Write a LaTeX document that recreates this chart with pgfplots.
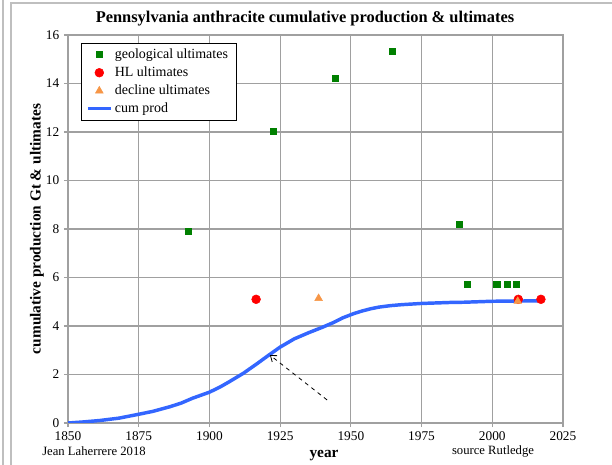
\documentclass[border=0pt]{standalone}
\usepackage{pgfplots}
\pgfplotsset{compat=1.18}
\usepackage{fontspec}
\setmainfont{Liberation Serif}
\usetikzlibrary{arrows.meta}
\definecolor{geo}{RGB}{0,128,0}
\definecolor{hl}{RGB}{255,0,0}
\definecolor{dec}{RGB}{247,150,70}
\definecolor{cum}{RGB}{51,102,255}
\definecolor{gridc}{RGB}{160,160,160}
\begin{document}
\begin{tikzpicture}
\useasboundingbox (0,0) rectangle (459pt,348.75pt);
% outer frame lines
\draw[gray!50, line width=0.8pt] (2.25pt,0) -- (2.25pt,348.75pt);
\draw[gray!50, line width=0.8pt] (8.25pt,0) -- (8.25pt,346.5pt) -- (459pt,346.5pt);
\begin{axis}[
  at={(51pt,31.5pt)}, anchor=south west,
  scale only axis, width=371.25pt, height=291pt,
  xmin=1850, xmax=2025, ymin=0, ymax=16,
  xtick={1850,1875,...,2025}, ytick={0,2,...,16},
  grid=major,
  major grid style={gridc, line width=0.8pt},
  axis line style={gridc, line width=0.8pt},
  tick style={gridc, line width=0.8pt},
  tick align=outside, tick pos=left,
  major tick length=3pt,
  /pgf/number format/1000 sep={},
  /pgf/number format/assume math mode=true,
  tick label style={font=\fontsize{10}{12}\selectfont, black},
  legend style={at={(0.026,0.979)}, anchor=north west, draw=black, fill=white,
    font=\fontsize{10.5}{12}\selectfont, row sep=0.8pt, inner xsep=4pt, inner ysep=2pt,
    cells={anchor=west}},
  legend cell align=left,
]
\addplot[cum, line width=2.6pt, forget plot, line join=round] coordinates {
(1850,0) (1855,0.04) (1861,0.1) (1868,0.2) (1875,0.36) (1880,0.48) (1886,0.67)
(1890,0.82) (1894,1.02) (1900,1.27) (1904,1.5) (1907,1.7) (1912,2.05) (1917,2.46)
(1921,2.8) (1925,3.13) (1930,3.47) (1935,3.72) (1940,3.95) (1944,4.15) (1947,4.33)
(1951,4.51) (1954,4.62) (1957,4.71) (1960,4.78) (1964,4.84) (1968,4.88) (1975,4.93) (1985,4.97)
(1990,4.98) (2000,5.02) (2010,5.03) (2017,5.04)};
\addplot[only marks, mark=square*, mark size=2.3pt, color=geo] coordinates {
(1892.4,7.92) (1922.5,12.04) (1944.4,14.23) (1964.5,15.34) (1988.2,8.2)
(1991.3,5.72) (2001.6,5.72) (2005.4,5.72) (2008.6,5.72)};
\addlegendentry{geological ultimates}
\addplot[only marks, mark=*, mark size=3.3pt, color=hl] coordinates {
(1916.5,5.1) (2009.2,5.1) (2017.2,5.1)};
\addlegendentry{HL ultimates}
\addplot[only marks, mark=triangle*, mark size=3.3pt, color=dec] coordinates {
(1938.6,5.14) (2009,5.02)};
\addlegendentry{decline ultimates}
\addlegendimage{cum, line width=2.2pt}
\addlegendentry{cum prod}
\draw[black, dashed, line width=0.6pt, -{Straight Barb[length=4pt,width=6pt]}]
  (axis cs:1941.6,0.95) -- (axis cs:1921.4,2.8);
\end{axis}
\node[font=\bfseries\fontsize{12.3}{14}\selectfont] at (228.75pt,334.5pt) {Pennsylvania anthracite cumulative production \& ultimates};
\node[font=\bfseries\fontsize{11.5}{13}\selectfont, rotate=90] at (27.75pt,177pt) {cumulative production Gt \& ultimates};
\node[font=\bfseries\fontsize{11.5}{13}\selectfont] at (243pt,6.75pt) {year};
\node[font=\fontsize{9.5}{11}\selectfont] at (70.5pt,10.5pt) {Jean Laherrere 2018};
\node[font=\fontsize{9.5}{11}\selectfont] at (369.75pt,10.5pt) {source Rutledge};
\end{tikzpicture}
\end{document}
